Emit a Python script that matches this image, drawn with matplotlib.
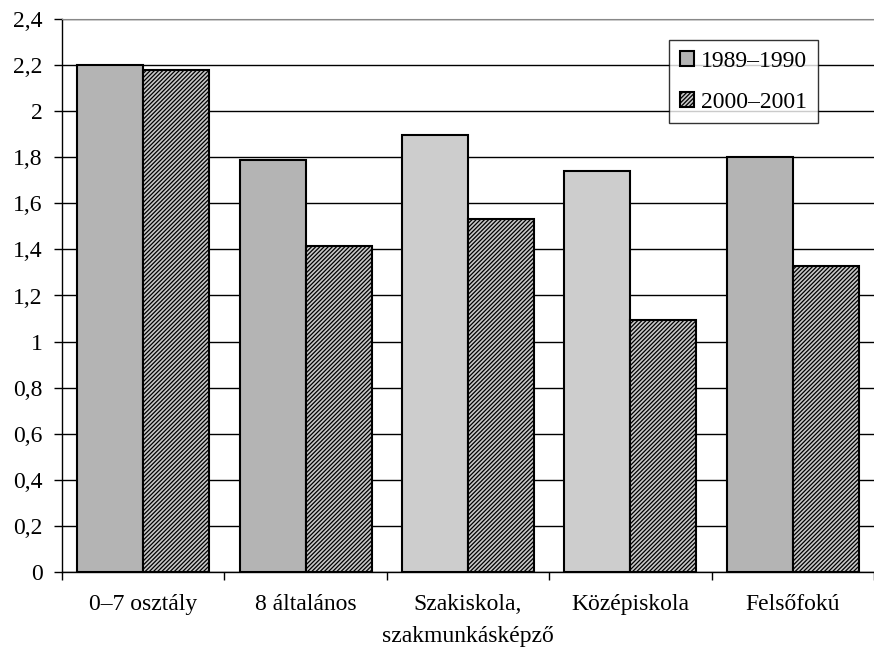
import matplotlib
matplotlib.use("Agg")
from matplotlib import pyplot as plt
import numpy as np

categories = ["0–7 osztály", "8 általános", "Szakiskola,\nszakmunkásképző", "Középiskola", "Felsőfokú"]
v_1989 = [2.20, 1.79, 1.895, 1.74, 1.80]
v_2000 = [2.18, 1.415, 1.53, 1.095, 1.33]
colors_1989 = ["#b4b4b4", "#b4b4b4", "#cdcdcd", "#cdcdcd", "#b4b4b4"]
yticks = np.arange(0, 2.41, 0.2)
ytick_labels = ["0", "0,2", "0,4", "0,6", "0,8", "1", "1,2", "1,4", "1,6", "1,8", "2", "2,2", "2,4"]

plt.rcParams["font.family"] = ["Liberation Serif", "DejaVu Serif"]
plt.rcParams["hatch.linewidth"] = 0.9

fig = plt.figure(figsize=(8.74, 6.55), dpi=100)
ax = fig.add_axes([62 / 874, 1 - 572 / 655, 1 - 62 / 874, 553 / 655])

x = np.arange(len(categories))
w = 66 / 162.5
ax.bar(x - w / 2, v_1989, width=w, color=colors_1989, edgecolor="black",
       linewidth=1.5, label="1989–1990", zorder=3)
ax.bar(x + w / 2, v_2000, width=w, color="#c8c8c8", edgecolor="black", hatch="////////",
       linewidth=1.5, label="2000–2001", zorder=3)

ax.set_xlim(-0.5, len(categories) - 0.5)
ax.set_ylim(0, 2.4)
ax.set_yticks(yticks)
ax.set_yticklabels(ytick_labels, fontsize=17)
ax.yaxis.grid(True, color="black", linewidth=1, zorder=0)
ax.set_axisbelow(True)

ax.set_xticks(np.arange(len(categories) + 1) - 0.5)
ax.set_xticklabels([])
ax.set_xticks(x, minor=True)
ax.set_xticklabels(categories, minor=True, fontsize=17, linespacing=1.7)
ax.tick_params(axis="x", which="minor", length=0, pad=16)
ax.tick_params(axis="x", which="major", length=6, width=1, direction="out")
ax.tick_params(axis="y", length=6, width=1, direction="out", pad=8)

ax.spines["right"].set_visible(False)
ax.spines["top"].set_color("#888888")
ax.spines["left"].set_linewidth(1)
ax.spines["bottom"].set_linewidth(1)

leg = ax.legend(loc="upper right", bbox_to_anchor=((818 - 62) / 812, (572 - 40) / 553),
                fontsize=17, frameon=True, fancybox=False, edgecolor="black",
                handlelength=0.6, handleheight=0.6, handletextpad=0.3,
                labelspacing=0.85, borderpad=0.45, borderaxespad=0)
leg.get_frame().set_linewidth(1)

plt.savefig("out.png")
